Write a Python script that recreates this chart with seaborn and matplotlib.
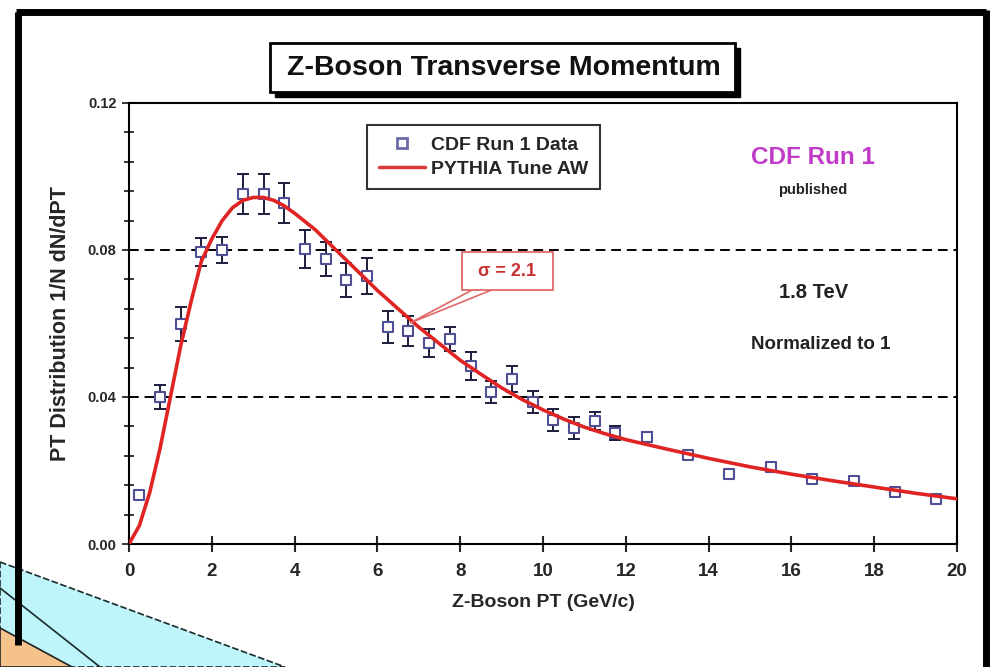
import numpy as np
import pandas as pd
import matplotlib
matplotlib.use("Agg")
import matplotlib.pyplot as plt
from matplotlib.lines import Line2D
from matplotlib.patches import Rectangle, Polygon
from matplotlib import font_manager
import seaborn as sns

# ---------------- data ----------------
pt_data = [0.25, 0.75, 1.25, 1.75, 2.25, 2.75, 3.25, 3.75, 4.25, 4.75, 5.25, 5.75,
           6.25, 6.75, 7.25, 7.75, 8.25, 8.75, 9.25, 9.75, 10.25, 10.75, 11.25, 11.75,
           12.5, 13.5, 14.5, 15.5, 16.5, 17.5, 18.5, 19.5]
dist_data = [0.0133, 0.0400, 0.0599, 0.0795, 0.0800, 0.0952, 0.0952, 0.0928, 0.0803, 0.0776,
             0.0718, 0.0729, 0.0590, 0.0580, 0.0547, 0.0558, 0.0484, 0.0414, 0.0449, 0.0386,
             0.0337, 0.0316, 0.0335, 0.0302, 0.0291, 0.0242, 0.0190, 0.0210, 0.0177, 0.0171,
             0.0141, 0.0122]
dist_err = [0.0010, 0.0033, 0.0046, 0.0038, 0.0036, 0.0055, 0.0055, 0.0055, 0.0052, 0.0046,
            0.0046, 0.0049, 0.0044, 0.0041, 0.0038, 0.0033, 0.0038, 0.0030, 0.0035, 0.0030,
            0.0030, 0.0030, 0.0025, 0.0020, 0.0014, 0.0010, 0.0008, 0.0008, 0.0008, 0.0008,
            0.0008, 0.0008]

pt_curve = [0.0, 0.25, 0.5, 0.75, 1.0, 1.25, 1.5, 1.75, 2.0, 2.25, 2.5, 2.75, 3.0, 3.25,
            3.5, 3.75, 4.0, 4.5, 5.0, 5.5, 6.0, 6.5, 7.0, 7.5, 8.0, 8.5, 9.0, 9.5, 10.0,
            10.5, 11.0, 11.5, 12.0, 13.0, 14.0, 15.0, 16.0, 17.0, 18.0, 19.0, 20.0]
dist_curve = [0.0, 0.005, 0.014, 0.026, 0.040, 0.054, 0.066, 0.077, 0.083, 0.088, 0.0915,
              0.0935, 0.0943, 0.0943, 0.0935, 0.092, 0.090, 0.0855, 0.080, 0.0745, 0.069,
              0.064, 0.059, 0.0545, 0.050, 0.0462, 0.0425, 0.0393, 0.0365, 0.034, 0.0318,
              0.0300, 0.0284, 0.0258, 0.0233, 0.0210, 0.0190, 0.0172, 0.0155, 0.0138, 0.0123]

x_ticks = [0, 2, 4, 6, 8, 10, 12, 14, 16, 18, 20]
y_ticks = [0.00, 0.04, 0.08, 0.12]
y_tick_labels = ["0.00", "0.04", "0.08", "0.12"]
ref_lines = [0.04, 0.08]

df_data = pd.DataFrame({"pt": pt_data, "dist": dist_data, "err": dist_err})
df_curve = pd.DataFrame({"pt": pt_curve, "dist": dist_curve})

# ---------------- style ----------------
sns.set_style("ticks")
avail = {f.name for f in font_manager.fontManager.ttflist}
main_font = "Liberation Sans Narrow" if "Liberation Sans Narrow" in avail else "Liberation Sans"
plt.rcParams["font.family"] = [main_font, "DejaVu Sans"]
plt.rcParams["font.weight"] = "bold"

W, H = 993, 667
fig = plt.figure(figsize=(W / 100, H / 100), dpi=100)
fig.patch.set_facecolor("white")

def fx(px):
    return px / W

def fy(py):
    return 1 - py / H

# bottom-left decorations (parts of other slide shapes)
cyan = Polygon([(fx(0), fy(562)), (fx(285), fy(667)), (fx(0), fy(667))], closed=True,
               transform=fig.transFigure, facecolor="#bdf5fa", edgecolor="#1a2a2a",
               linewidth=1.2, linestyle=(0, (4, 1.5)), zorder=0)
fig.patches.append(cyan)
fig.lines.append(Line2D([fx(0), fx(100)], [fy(588), fy(667)], transform=fig.transFigure,
                        color="#1a2a2a", lw=1.2, zorder=1))
orange = Polygon([(fx(0), fy(628)), (fx(72), fy(667)), (fx(0), fy(667))], closed=True,
                 transform=fig.transFigure, facecolor="#f6c28c", edgecolor="#222222",
                 linewidth=1.2, zorder=1)
fig.patches.append(orange)

# outer frame
fig.lines.append(Line2D([fx(18), fx(18)], [fy(12), fy(645)], transform=fig.transFigure,
                        color="black", lw=5, zorder=2, solid_capstyle="butt"))
fig.lines.append(Line2D([fx(16), fx(986)], [fy(12), fy(12)], transform=fig.transFigure,
                        color="black", lw=5, zorder=2, solid_capstyle="butt"))
fig.lines.append(Line2D([fx(986), fx(986)], [fy(10), fy(667)], transform=fig.transFigure,
                        color="black", lw=5, zorder=2, solid_capstyle="butt"))

# axes
ax = fig.add_axes([fx(129), fy(544), fx(957) - fx(129), fy(103) - fy(544)])
ax.set_facecolor("none")

for yl in ref_lines:
    ax.axhline(yl, color="black", lw=1.4, linestyle=(0, (5, 3)), zorder=1)

ax.errorbar(df_data["pt"], df_data["dist"], yerr=df_data["err"], fmt="none",
            ecolor="#1c1c3c", elinewidth=1.4, capsize=4, capthick=1.4, zorder=3)
sns.scatterplot(data=df_data, x="pt", y="dist", marker="s", s=60, facecolor="white",
                edgecolor="#4f4f95", linewidth=1.5, zorder=4, ax=ax, legend=False)
sns.lineplot(data=df_curve, x="pt", y="dist", color="#e02424", lw=2.6, zorder=5, ax=ax,
             legend=False)

ax.set_xlim(0, 20)
ax.set_ylim(0, 0.12)
ax.set_xticks(x_ticks)
ax.set_xticklabels([str(v) for v in x_ticks], fontsize=13.5, fontweight="bold")
ax.set_yticks(y_ticks)
ax.set_yticklabels(y_tick_labels, fontsize=10.5, fontweight="bold")
ax.set_yticks(np.arange(0, 0.1201, 0.008), minor=True)
ax.tick_params(axis="x", which="major", direction="inout", length=12, width=1.5, pad=8,
               bottom=True, top=False)
ax.tick_params(axis="y", which="major", direction="inout", length=10, width=1.3, pad=4,
               left=True, right=False)
ax.tick_params(axis="y", which="minor", direction="inout", length=7, width=1.3,
               left=True, right=False)
for s in ax.spines.values():
    s.set_linewidth(1.5)
    s.set_color("black")

ax.set_xlabel("Z-Boson PT (GeV/c)", fontsize=14, fontweight="bold", labelpad=10)
ax.set_ylabel("PT Distribution 1/N dN/dPT", fontsize=15.5, fontweight="bold", labelpad=12)

# legend
handles = [Line2D([], [], marker="s", linestyle="none", markersize=6.5,
                  markerfacecolor="white", markeredgecolor="#6a6aa8", markeredgewidth=2),
           Line2D([], [], color="#d83a3a", lw=2.5)]
leg = ax.legend(handles, ["CDF Run 1 Data", "PYTHIA Tune AW"],
                loc="upper left", bbox_to_anchor=(fx(367), fy(125)),
                bbox_transform=fig.transFigure, borderaxespad=0, frameon=True,
                fancybox=False, prop={"size": 14, "weight": "bold"}, handlelength=2.4,
                handletextpad=0.3, borderpad=0.6, labelspacing=0.3)
leg.get_frame().set_edgecolor("black")
leg.get_frame().set_linewidth(1.5)

# title box with shadow
fig.patches.append(Rectangle((fx(275), fy(97)), fx(740) - fx(275), fy(48) - fy(97),
                             transform=fig.transFigure, facecolor="black",
                             edgecolor="black", zorder=5))
fig.patches.append(Rectangle((fx(270), fy(92)), fx(735) - fx(270), fy(43) - fy(92),
                             transform=fig.transFigure, facecolor="white",
                             edgecolor="black", linewidth=2, zorder=6))
fig.text(fx(504), fy(68), "Z-Boson Transverse Momentum", ha="center", va="center",
         fontsize=20.5, fontweight="bold", color="#111111", zorder=7)

# right-side annotations
fig.text(fx(813), fy(157), "CDF Run 1", ha="center", va="center", fontsize=17.5,
         fontweight="bold", color="#c03cc8")
fig.text(fx(813), fy(190), "published", ha="center", va="center", fontsize=10.5,
         fontweight="bold", color="#222222")
fig.text(fx(814), fy(293), "1.8 TeV", ha="center", va="center", fontsize=14.5,
         fontweight="bold", color="#222222")
fig.text(fx(821), fy(344), "Normalized to 1", ha="center", va="center", fontsize=13.5,
         fontweight="bold", color="#222222")

# sigma callout
fig.patches.append(Polygon([(fx(474), fy(289)), (fx(494), fy(289)), (fx(410), fy(323))],
                           closed=True, transform=fig.transFigure, facecolor="white",
                           edgecolor="#e06868", linewidth=1.2, zorder=8))
fig.patches.append(Rectangle((fx(462), fy(290)), fx(553) - fx(462), fy(252) - fy(290),
                             transform=fig.transFigure, facecolor="white",
                             edgecolor="#e06868", linewidth=1.3, zorder=9))
fig.text(fx(507), fy(271), "σ = 2.1", ha="center", va="center", fontsize=13,
         fontweight="bold", color="#c83030", zorder=10,
         family=[main_font, "DejaVu Sans"])

fig.savefig("out.png", dpi=100, facecolor="white")
